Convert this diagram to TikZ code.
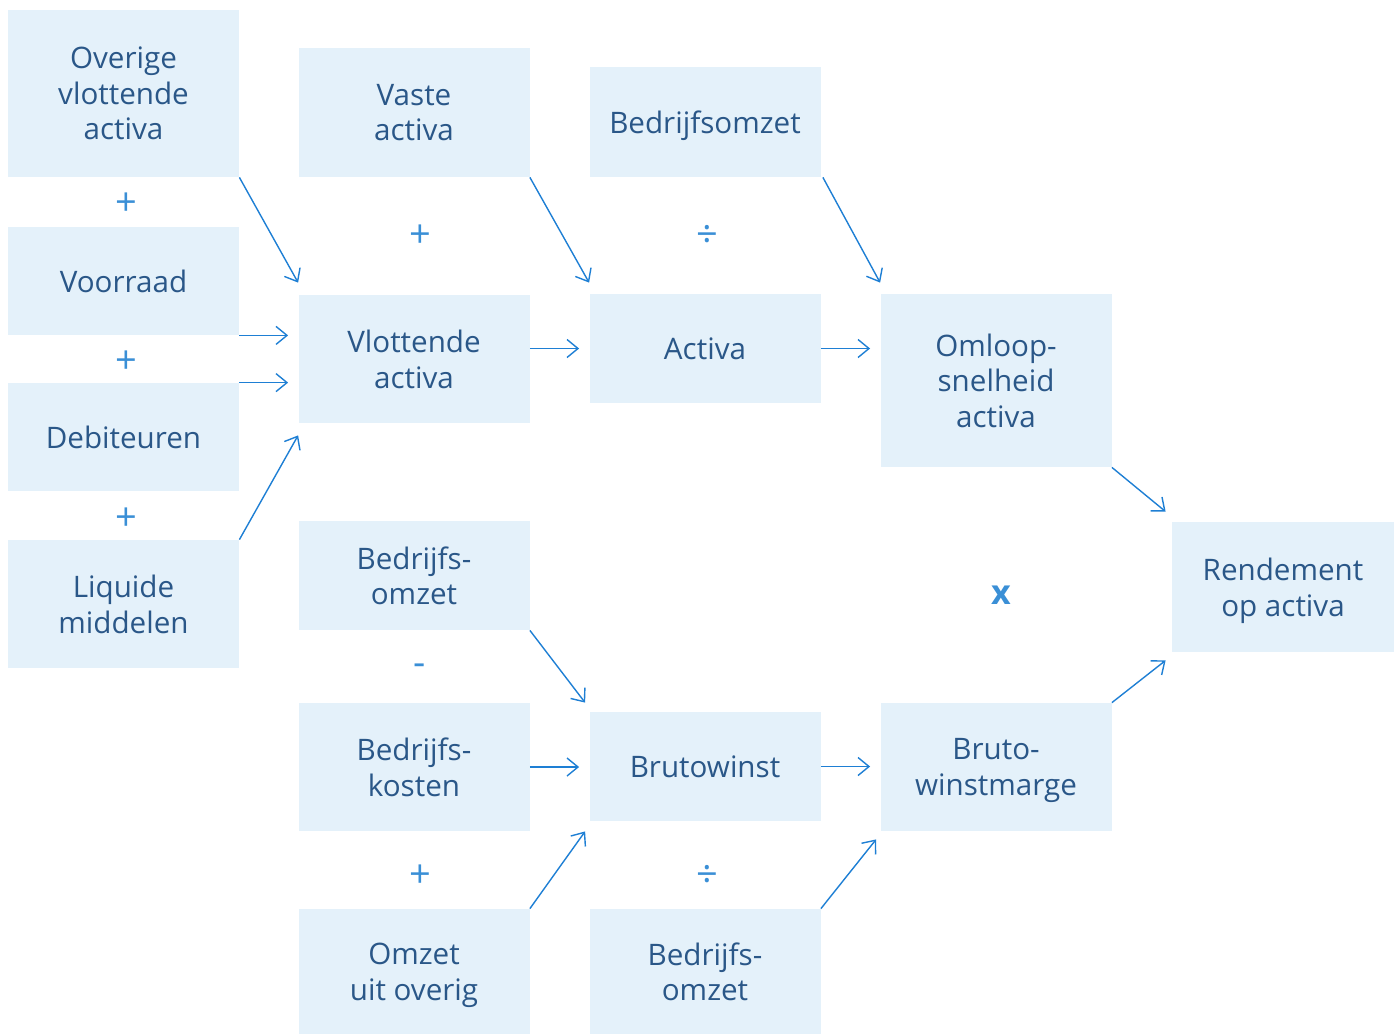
\documentclass[tikz,border=0pt]{standalone}
\usepackage{fontspec}
\setmainfont{Open Sans}
\usetikzlibrary{arrows.meta}
\definecolor{boxfill}{HTML}{E4F1FA}
\definecolor{boxtext}{HTML}{2A5788}
\definecolor{arrowblue}{HTML}{1E7FD4}
\definecolor{opblue}{HTML}{3A8FD6}
\tikzset{
	box/.style={fill=boxfill, text=boxtext, align=center, inner sep=0pt,
		text depth=0pt, minimum width=115.5pt,
		font=\fontsize{14.8}{17.8}\selectfont},
	op/.style={text=opblue, yshift=-1.5pt, font=\fontsize{19}{22}\selectfont},
	arr/.style={draw=arrowblue, line width=0.7pt,
		-{Straight Barb[length=5.5pt,width=9pt,line width=0.7pt]}}
}
\begin{document}
\begin{tikzpicture}[x=0.5pt,y=-0.5pt]
	\useasboundingbox (0,0) rectangle (1395,1034);
	% first column
	\node[box, minimum height=83.5pt] (ovl) at (123.5,93.5) {Overige\\vlottende\\activa};
	\node[box, minimum height=54pt] (voor) at (123.5,281) {Voorraad};
	\node[box, minimum height=54pt] (deb) at (123.5,437) {Debiteuren};
	\node[box, minimum height=64pt] (liq) at (123.5,604) {Liquide\\middelen};
	\node[op] at (126,201) {+};
	\node[op] at (126,359) {+};
	\node[op] at (126,516) {+};
	% second column
	\node[box, minimum height=64.5pt] (vast) at (414,112.5) {Vaste\\activa};
	\node[box, minimum height=64pt] (vlot) at (414,359) {Vlottende\\activa};
	\node[box, minimum height=54.5pt] (omz1) at (414,575.5) {Bedrijfs-\\omzet};
	\node[box, minimum height=64pt] (kost) at (414,767) {Bedrijfs-\\kosten};
	\node[box, minimum height=62.5pt] (over) at (414,971.5) {Omzet\\uit overig};
	\node[op] at (420,233) {+};
	\node[op] at (420,667) {-};
	\node[op] at (420,873) {+};
	% third column
	\node[box, minimum height=55pt] (omz2) at (705,122) {Bedrijfsomzet};
	\node[box, minimum height=54.5pt] (act) at (705,348.5) {Activa};
	\node[box, minimum height=54.5pt] (bruto) at (705,766.5) {Brutowinst};
	\node[box, minimum height=62.5pt] (omz3) at (705,971.5) {Bedrijfs-\\omzet};
	\node[op] at (707,233) {÷};
	\node[op] at (707,873) {÷};
	% fourth column
	\node[box, minimum height=86.5pt] (oms) at (996,380.5) {Omloop-\\snelheid\\activa};
	\node[box, minimum height=64pt] (marge) at (996,767) {Bruto-\\winstmarge};
	\node[op, yshift=1.5pt, font=\fontsize{17}{20}\selectfont\bfseries] at (1001,595) {x};
	% result
	\node[box, minimum width=111pt, minimum height=65pt] (rend) at (1283,587) {Rendement\\op activa};
	% arrows into Vlottende activa
	\draw[arr] (ovl.south east) -- ([yshift=6pt]vlot.north west);
	\draw[arr, shorten >=5pt] (voor.south east) -- (voor.south east -| vlot.west);
	\draw[arr, shorten >=5pt] (deb.north east) -- (deb.north east -| vlot.west);
	\draw[arr] (liq.north east) -- ([yshift=-6pt]vlot.south west);
	% arrows into Activa
	\draw[arr] (vast.south east) -- ([yshift=5.5pt]act.north west);
	\draw[arr, shorten >=5pt] (vlot.east |- act) -- (act.west);
	% arrows into Omloopsnelheid
	\draw[arr] ([xshift=1pt]omz2.south east) -- ([yshift=5.5pt]oms.north west);
	\draw[arr, shorten >=5pt] (act.east) -- (act.east -| oms.west);
	% arrows into Brutowinst
	\draw[arr] (omz1.south east) -- ([xshift=-2pt,yshift=4.5pt]bruto.north west);
	\draw[arr, shorten >=5pt] (kost.east) -- (kost.east -| bruto.west);
	\draw[arr] (over.north east) -- ([xshift=-2pt,yshift=-5pt]bruto.south west);
	% arrows into Bruto-winstmarge
	\draw[arr, shorten >=5pt] (bruto.east) -- (bruto.east -| marge.west);
	\draw[arr] (omz3.north east) -- ([xshift=-2pt,yshift=-4pt]marge.south west);
	% arrows into Rendement
	\draw[arr] (oms.south east) -- ([xshift=-3pt,yshift=5pt]rend.north west);
	\draw[arr] (marge.north east) -- ([xshift=-3pt,yshift=-4pt]rend.south west);
\end{tikzpicture}
\end{document}
